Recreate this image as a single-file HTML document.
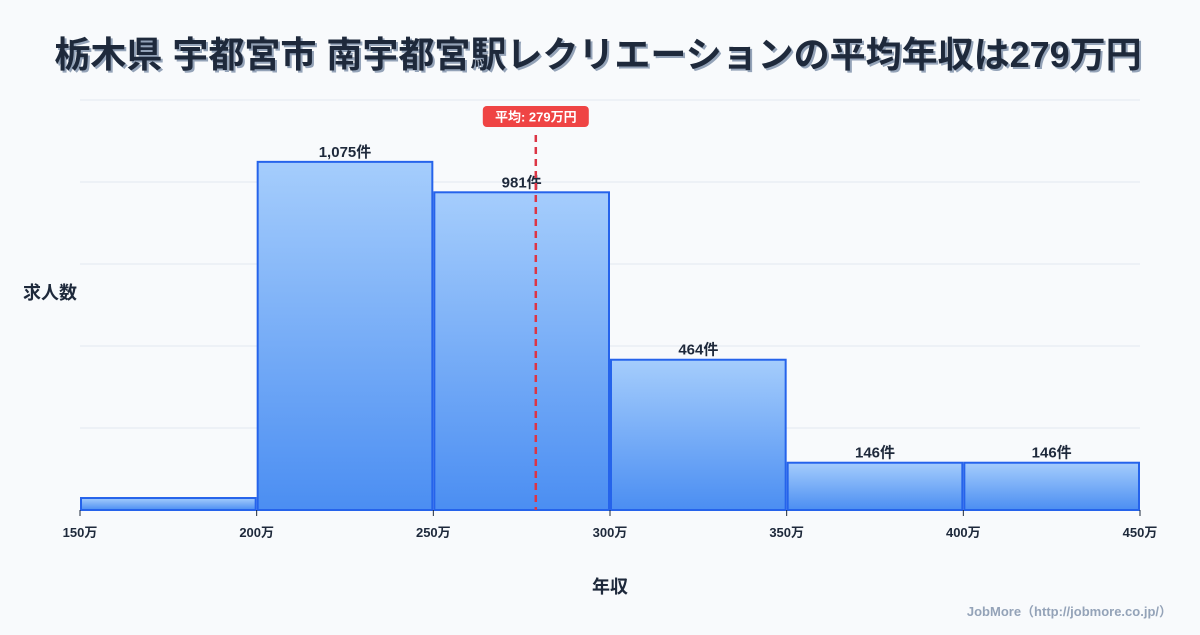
<!DOCTYPE html>
<html><head><meta charset="utf-8"><style>
body{margin:0;background:#f8fafc;}
svg text{font-family:"Liberation Sans","Noto Sans CJK JP",sans-serif;}
</style></head><body>
<svg id="c" width="1200" height="630" viewBox="0 0 1200 630" xmlns="http://www.w3.org/2000/svg">
<defs><linearGradient id="g" x1="0" y1="0" x2="0" y2="1"><stop offset="0" stop-color="#a5cdfc"/><stop offset="1" stop-color="#4b8ef2"/></linearGradient></defs>
<rect width="1200" height="630" fill="#f8fafc"/>
<text x="600" y="69" text-anchor="middle" font-size="36" font-weight="bold" fill="#94a3b8">栃木県 宇都宮市 南宇都宮駅レクリエーションの平均年収は279万円</text>
<text x="598" y="67" text-anchor="middle" font-size="36" font-weight="bold" fill="#1e293b">栃木県 宇都宮市 南宇都宮駅レクリエーションの平均年収は279万円</text>
<g id="grid"></g><g id="bars"></g><g id="xt"></g>
<text x="50" y="299" text-anchor="middle" font-size="18" font-weight="bold" fill="#1e293b">求人数</text>
<text x="610" y="593" text-anchor="middle" font-size="18" font-weight="bold" fill="#1e293b">年収</text>
<text x="1172" y="616" text-anchor="end" font-size="13" font-weight="bold" fill="#94a3b8">JobMore（http://jobmore.co.jp/）</text>
</svg>
<script>
const binStarts=[150,200,250,300,350,400];
const binWidth=50;
const counts=[37,1075,981,464,146,146];
const countLabels=["","1,075件","981件","464件","146件","146件"];
const xTicks=[150,200,250,300,350,400,450];
const meanValue=279;
const meanLabel="平均: 279万円";
const NS="http://www.w3.org/2000/svg";
const X0=80,X1=1140,Y0=510,Y1=100,xMin=150,xMax=450,yMax=1266;
const xs=v=>X0+(v-xMin)/(xMax-xMin)*(X1-X0);
const ys=v=>Y0-v/yMax*(Y0-Y1);
function mk(t,a,p){const e=document.createElementNS(NS,t);for(const k in a)e.setAttribute(k,a[k]);p.appendChild(e);return e;}
const grid=document.getElementById('grid');
for(let i=0;i<=5;i++){const y=Y1+i*(Y0-Y1)/5;const l=mk('line',{x1:X0,x2:X1,y1:y,y2:y,stroke:i==5?'#cbd5e1':'#e2e8f0','stroke-width':1},grid);

}
const bars=document.getElementById('bars');
binStarts.forEach((b,i)=>{const x=xs(b)+1,w=xs(b+binWidth)-xs(b)-2,y=ys(counts[i]);
const r=mk('rect',{x:x,y:y,width:w,height:Y0-y,fill:'url(#g)',stroke:'#2563eb','stroke-width':2},bars);


if(countLabels[i]){const t=mk('text',{x:x+w/2,y:y-5,'text-anchor':'middle','font-size':15,'font-weight':'bold',fill:'#1e293b'},bars);t.textContent=countLabels[i];

}});
const mx=xs(meanValue);
const ml=mk('line',{x1:mx,x2:mx,y1:135,y2:Y0,stroke:'#dc3545','stroke-width':2.5,'stroke-dasharray':'7,5'},bars);


const mb=mk('rect',{x:mx-53,y:106,width:106,height:21,rx:4,fill:'#ef4444'},bars);


const mt=mk('text',{x:mx,y:121.5,'text-anchor':'middle','font-size':13,'font-weight':'bold',fill:'#fff'},bars);mt.textContent=meanLabel;


const xt=document.getElementById('xt');
xTicks.forEach(v=>{const x=xs(v);const l=mk('line',{x1:x,x2:x,y1:Y0,y2:Y0+6,stroke:'#1e293b'},xt);


const t=mk('text',{x:x,y:537,'text-anchor':'middle','font-size':13,'font-weight':'bold',fill:'#1e293b'},xt);t.textContent=v+'万';

});
</script>
</body></html>
